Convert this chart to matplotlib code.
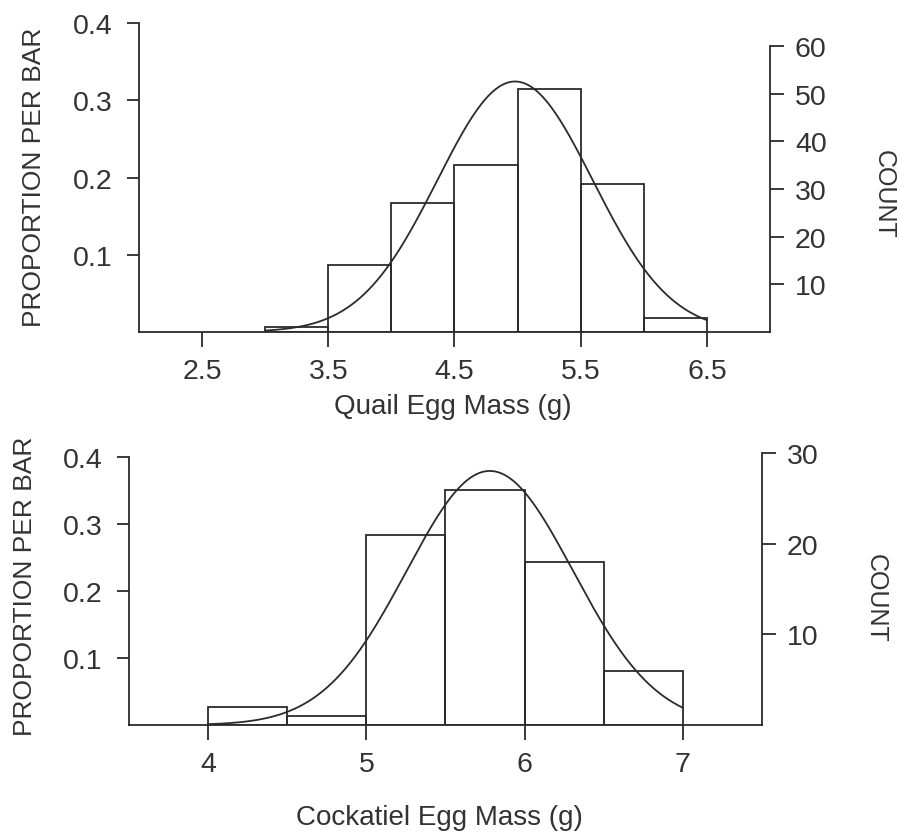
import numpy as np
import matplotlib
matplotlib.use('Agg')
import matplotlib.pyplot as plt

# quail egg mass histogram (bins of 0.5 g)
quail_edges = [3.0, 3.5, 4.0, 4.5, 5.0, 5.5, 6.0, 6.5]
quail_counts = [1, 14, 27, 35, 51, 31, 3]
quail_mean = 4.98
quail_sd = 0.615
quail_xticks = [2.5, 3.5, 4.5, 5.5, 6.5]
quail_count_ticks = [10, 20, 30, 40, 50, 60]

# cockatiel egg mass histogram
cock_edges = [4.0, 4.5, 5.0, 5.5, 6.0, 6.5, 7.0]
cock_counts = [2, 1, 21, 26, 18, 6]
cock_mean = 5.78
cock_sd = 0.526
cock_xticks = [4, 5, 6, 7]
cock_count_ticks = [10, 20, 30]

prop_ticks = [0.1, 0.2, 0.3, 0.4]

plt.rcParams['font.family'] = ['Liberation Sans', 'DejaVu Sans']
ink = '#2b2b2b'
txt = '#333333'
lw = 1.3

fig = plt.figure(figsize=(8.99, 8.37), dpi=100)


def panel(rect, edges, counts, mean, sd, xlim, xticks, cticks, xlabel,
          xl_pos, yl_pos, cl_pos):
    counts = np.array(counts, dtype=float)
    n = counts.sum()
    props = counts / n
    edges = np.array(edges)
    w = edges[1] - edges[0]
    ax = fig.add_axes(rect)
    ax.bar(edges[:-1], props, width=w, align='edge', fill=False,
           edgecolor=ink, linewidth=lw)
    xs = np.linspace(edges[0], edges[-1], 300)
    dens = w / (sd * np.sqrt(2 * np.pi)) * np.exp(-0.5 * ((xs - mean) / sd) ** 2)
    ax.plot(xs, dens, color=ink, lw=lw)
    ax.set_xlim(*xlim)
    ax.set_ylim(0, 0.41)
    ax.set_xticks(xticks)
    ax.set_xticklabels([str(t) for t in xticks])
    ax.set_yticks(prop_ticks)
    ax.set_yticklabels([str(t) for t in prop_ticks])
    for s in ['top', 'right']:
        ax.spines[s].set_visible(False)
    ax.spines['left'].set_bounds(0, 0.4)
    for s in ['left', 'bottom']:
        ax.spines[s].set_color(ink)
        ax.spines[s].set_linewidth(lw)
    ax.tick_params(axis='y', length=9, width=lw, color=ink, pad=10,
                   labelsize=20.5, labelcolor=txt)
    ax.tick_params(axis='x', length=11, width=lw, color=ink, pad=8,
                   labelsize=20.5, labelcolor=txt)
    ax.set_xlabel(xlabel, fontsize=20, color=txt)
    ax.xaxis.set_label_coords(*xl_pos)
    ax.set_ylabel('PROPORTION PER BAR', fontsize=19, color=txt)
    ax.yaxis.set_label_coords(*yl_pos)

    ax2 = ax.twinx()
    ax2.set_ylim(0, 0.41 * n)
    ax2.set_yticks(cticks)
    ax2.set_yticklabels([str(t) for t in cticks])
    for s in ['top', 'left', 'bottom']:
        ax2.spines[s].set_visible(False)
    ax2.spines['right'].set_bounds(0, cticks[-1])
    ax2.spines['right'].set_color(ink)
    ax2.spines['right'].set_linewidth(lw)
    ax2.tick_params(axis='y', length=10, width=lw, color=ink, pad=8,
                    labelsize=20.5, labelcolor=txt)
    ax2.set_ylabel('COUNT', fontsize=18, color=txt, rotation=270, va='bottom')
    ax2.yaxis.set_label_coords(*cl_pos)
    return ax, ax2


panel([0.1546, 0.6022, 0.7019, 0.3783], quail_edges, quail_counts,
      quail_mean, quail_sd, (2.0, 7.0), quail_xticks, quail_count_ticks,
      'Quail Egg Mass (g)', (0.497, -0.193), (-0.148, 0.49), (1.162, 0.439))
panel([0.1435, 0.1326, 0.7041, 0.3282], cock_edges, cock_counts,
      cock_mean, cock_sd, (3.5, 7.5), cock_xticks, cock_count_ticks,
      'Cockatiel Egg Mass (g)', (0.491, -0.288), (-0.145, 0.51), (1.161, 0.466))

fig.savefig('out.png', dpi=100, facecolor='white')
